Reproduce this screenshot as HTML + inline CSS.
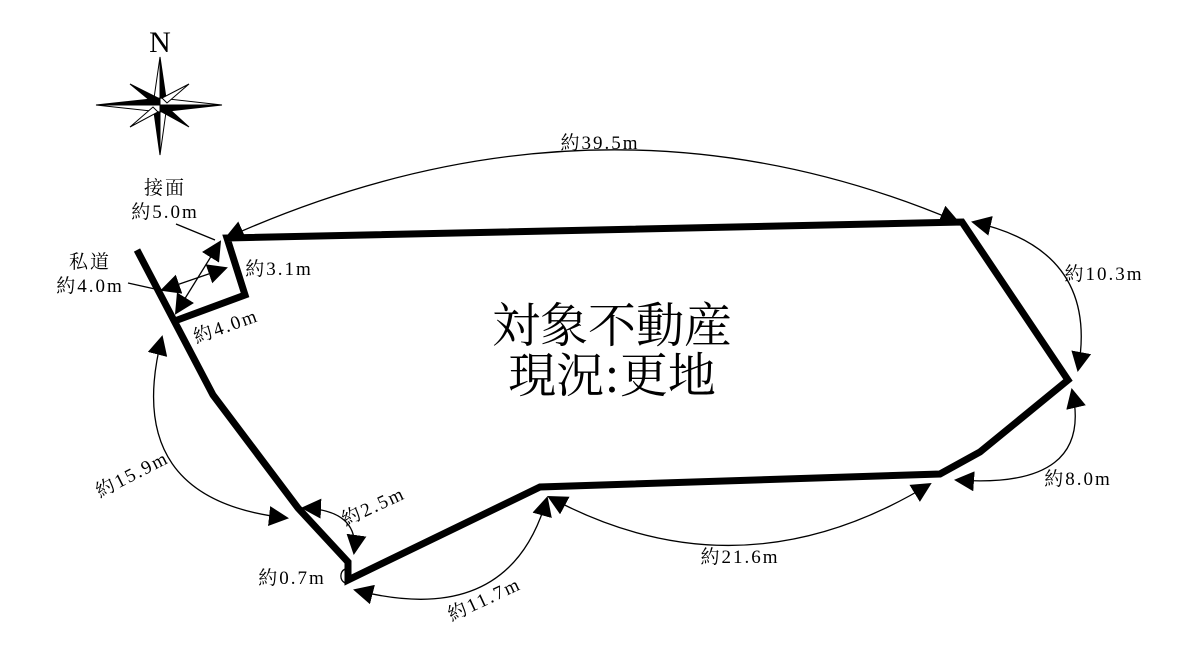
<!DOCTYPE html>
<html><head><meta charset="utf-8"><style>
html,body{margin:0;padding:0;background:#fff;}
svg{display:block;}
text{font-family:"Liberation Serif","Noto Serif CJK SC",serif;fill:#000;}
</style></head><body>
<svg width="1200" height="656" viewBox="0 0 1200 656" xmlns="http://www.w3.org/2000/svg">
<defs>
<marker id="a" viewBox="0 0 10 10" refX="9" refY="5" markerWidth="20" markerHeight="20" markerUnits="userSpaceOnUse" orient="auto-start-reverse">
<path d="M0,0 L10,5 L0,10 z" fill="#000"/></marker>
</defs>
<!-- compass -->
<text x="160" y="52" font-size="30" text-anchor="middle">N</text>
<g fill="#000" stroke="#000" stroke-width="1">
<polygon points="160,57 167,105 160,105" />
<polygon points="160,57 153,105 160,105" fill="#fff"/>
<polygon points="160,155 153,105 160,105" />
<polygon points="160,155 167,105 160,105" fill="#fff"/>
<polygon points="96,105 160,98 160,105" />
<polygon points="96,105 160,112 160,105" fill="#fff"/>
<polygon points="222,105 160,112 160,105" />
<polygon points="222,105 160,98 160,105" fill="#fff"/>
<polygon points="130,84 158,98 153,103" />
<polygon points="189,84 162,98 167,103" fill="#fff"/>
<polygon points="189,127 167,107 162,112" />
<polygon points="130,127 153,107 158,112" fill="#fff"/>
</g>
<!-- lot outline -->
<polyline points="137,250 213,395 298,508 348,562 348,580 540,487 940,474 980,452 1068,380 962,222 227,238 245,295 172,322" fill="none" stroke="#000" stroke-width="7" stroke-linejoin="miter"/>
<!-- dimension arcs -->
<g fill="none" stroke="#000" stroke-width="1.3">
<path d="M226,238 Q600,70 958,222" marker-start="url(#a)" marker-end="url(#a)"/>
<path d="M973,222 Q1100,250 1078,370" marker-start="url(#a)" marker-end="url(#a)"/>
<path d="M1072,390 Q1095,490 956,480" marker-start="url(#a)" marker-end="url(#a)"/>
<path d="M549,497 Q740,600 930,484" marker-start="url(#a)" marker-end="url(#a)"/>
<path d="M547,498 Q510,630 355,590" marker-start="url(#a)" marker-end="url(#a)"/>
<path d="M162,337 Q120,500 287,518" marker-start="url(#a)" marker-end="url(#a)"/>
<path d="M303,508 Q360,510 354,553" marker-start="url(#a)" marker-end="url(#a)"/>
<path d="M345,569 A8,8 0 0 0 345,583"/>
<path d="M176,313 L220,242" marker-start="url(#a)" marker-end="url(#a)"/>
<path d="M162,290 L226,268" marker-start="url(#a)" marker-end="url(#a)"/>
<path d="M176,224 L215,240"/>
<path d="M128,283 L155,289"/>
</g>
<!-- labels -->
<g font-size="19" letter-spacing="2">
<text x="600" y="149" text-anchor="middle">約39.5m</text>
<text x="1104" y="280" text-anchor="middle">約10.3m</text>
<text x="1078" y="485" text-anchor="middle">約8.0m</text>
<text x="740" y="563" text-anchor="middle">約21.6m</text>
<text x="292" y="584" text-anchor="middle">約0.7m</text>
<text x="279" y="275" text-anchor="middle">約3.1m</text>
<text x="165" y="194" text-anchor="middle">接面</text>
<text x="165" y="218" text-anchor="middle">約5.0m</text>
<text x="90" y="268" text-anchor="middle">私道</text>
<text x="90" y="292" text-anchor="middle">約4.0m</text>
<text x="0" y="0" text-anchor="middle" transform="translate(228,332) rotate(-20)">約4.0m</text>
<text x="0" y="0" text-anchor="middle" transform="translate(376,512) rotate(-25)">約2.5m</text>
<text x="0" y="0" text-anchor="middle" transform="translate(487,605) rotate(-25)">約11.7m</text>
<text x="0" y="0" text-anchor="middle" transform="translate(135,480) rotate(-27)">約15.9m</text>
</g>
<g font-size="48">
<text x="612" y="342" text-anchor="middle" style="font-family:'Noto Serif CJK SC','Noto Sans CJK JP',serif">対象不動産</text>
<text x="612" y="392" text-anchor="middle" style="font-family:'Noto Serif CJK SC','Noto Sans CJK JP',serif">現況:更地</text>
</g>
</svg>
</body></html>
